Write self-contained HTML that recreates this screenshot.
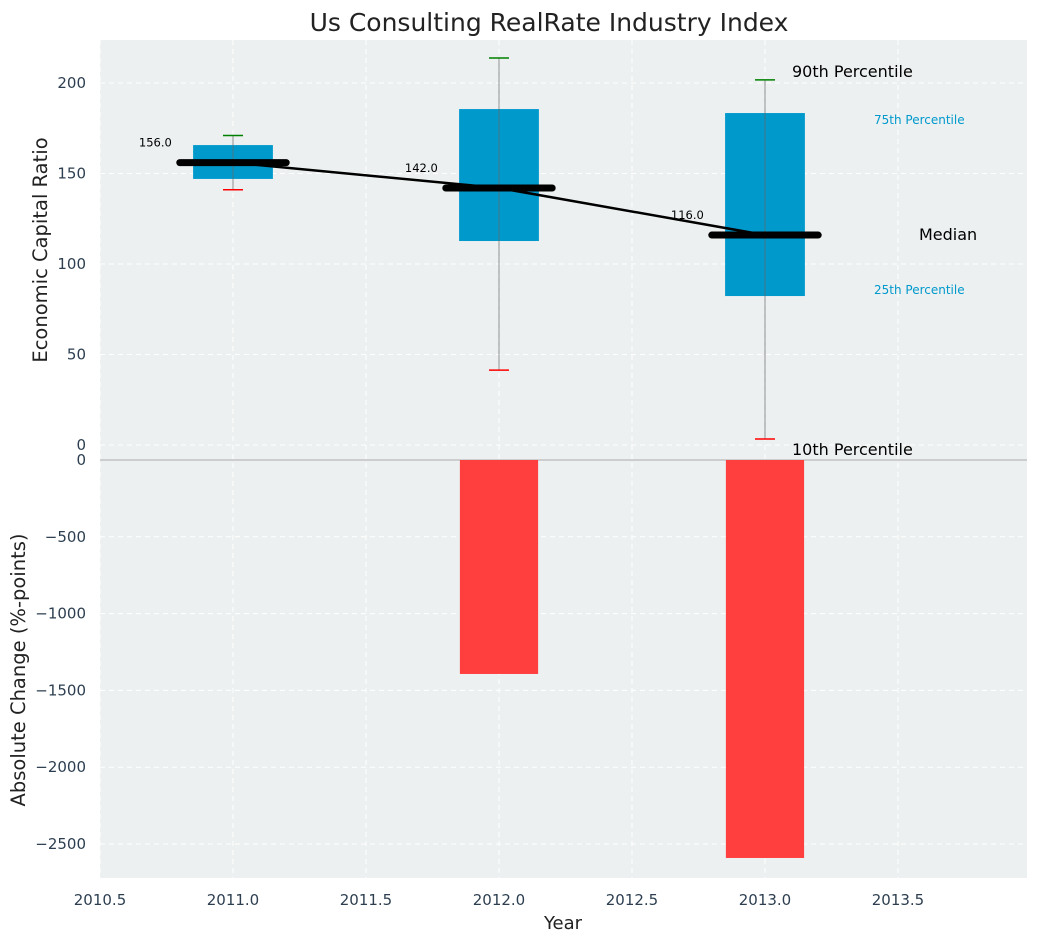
<!DOCTYPE html>
<html><head><meta charset="utf-8"><style>
body{margin:0;background:#fff;font-family:"Liberation Sans","DejaVu Sans",sans-serif}
</style></head><body>
<svg id="c" width="1039" height="942" xmlns="http://www.w3.org/2000/svg" font-family="DejaVu Sans, Liberation Sans, sans-serif"></svg>
<script>
const years=[2011,2012,2013];
const p10=[141,41.4,3.3];
const q1=[147,112.7,82.3];
const median=[156,142,116];
const q3=[165.7,185.6,183.4];
const p90=[171,213.8,201.7];
const changes=[0,-1393,-2591];
const xTicks=[2010.5,2011,2011.5,2012,2012.5,2013,2013.5];
const yTopTicks=[0,50,100,150,200];
const yBotTicks=[0,-500,-1000,-1500,-2000,-2500];
const NS='http://www.w3.org/2000/svg';
const svg=document.getElementById('c');
function el(t,a,p){const e=document.createElementNS(NS,t);for(const k in a)e.setAttribute(k,a[k]);(p||svg).appendChild(e);return e;}
const L=100,R=1027,X0=2010.5,X1=2013.985;
const x=v=>L+(v-X0)/(X1-X0)*(R-L);
const T0=40,T1=460,yt=v=>445-v*1.81;
const B0=460,B1=878,yb=v=>460-v*0.1536;
let e=el('rect',{x:L,y:T0,width:R-L,height:T1-T0,fill:'#ecf0f1'});

e=el('rect',{x:L,y:B0,width:R-L,height:B1-B0,fill:'#ecf0f1'});

const g=el('g',{stroke:'#fff','stroke-dasharray':'5,4','stroke-width':1});

xTicks.forEach(v=>{el('line',{x1:x(v),x2:x(v),y1:T0,y2:B1},g);});
yTopTicks.forEach(v=>{el('line',{x1:L,x2:R,y1:yt(v),y2:yt(v)},g);});
yBotTicks.forEach(v=>{el('line',{x1:L,x2:R,y1:yb(v),y2:yb(v)},g);});
el('line',{x1:L,x2:R,y1:460,y2:460,stroke:'#aaa','stroke-width':1});
xTicks.forEach(v=>{const t=el('text',{x:x(v),y:905,'text-anchor':'middle','font-size':15,fill:'#2c3e50'});t.textContent=v.toFixed(1);});
yTopTicks.forEach(v=>{const t=el('text',{x:86,y:yt(v)+5,'text-anchor':'end','font-size':15,fill:'#2c3e50'});t.textContent=v;});
yBotTicks.forEach(v=>{const t=el('text',{x:86,y:yb(v)+5,'text-anchor':'end','font-size':15,fill:'#2c3e50'});t.textContent=v<0?'\u2212'+(-v):v;});
years.forEach((yr,i)=>{if(changes[i]===0)return;const b=el('rect',{x:x(yr-0.147),width:x(yr+0.147)-x(yr-0.147),y:yb(0),height:yb(changes[i])-yb(0),fill:'#ff3e3e'});
});
years.forEach((yr,i)=>{const b=el('rect',{x:x(yr-0.15),width:x(yr+0.15)-x(yr-0.15),y:yt(q3[i]),height:yt(q1[i])-yt(q3[i]),fill:'#0099cc'});

const w=el('line',{x1:x(yr),x2:x(yr),y1:yt(p90[i]),y2:yt(p10[i]),stroke:'#666','stroke-opacity':0.7,'stroke-width':1});

const c1=el('line',{x1:x(yr)-10,x2:x(yr)+10,y1:yt(p90[i]),y2:yt(p90[i]),stroke:'green','stroke-width':1.5});

const c2=el('line',{x1:x(yr)-10,x2:x(yr)+10,y1:yt(p10[i]),y2:yt(p10[i]),stroke:'red','stroke-width':1.5});
});
const ml=el('polyline',{points:years.map((yr,i)=>x(yr)+','+yt(median[i])).join(' '),fill:'none',stroke:'#000','stroke-width':2.5});

years.forEach((yr,i)=>{const m=el('line',{x1:x(yr-0.2),x2:x(yr+0.2),y1:yt(median[i]),y2:yt(median[i]),stroke:'#000','stroke-width':7,'stroke-linecap':'round'});

const t=el('text',{x:x(yr-0.23),y:yt(median[i])-16,'text-anchor':'end','font-size':11.5,fill:'#000'});t.textContent=median[i].toFixed(1);
});
[['90th Percentile',792,77,16,'#000'],['75th Percentile',874,124,12,'#0099cc'],['Median',919,240,16,'#000'],['25th Percentile',874,294,12,'#0099cc'],['10th Percentile',792,455,16,'#000']].forEach(a=>{
const t=el('text',{x:a[1],y:a[2],'font-size':a[3],fill:a[4]});t.textContent=a[0];});
let t=el('text',{x:549,y:31,'text-anchor':'middle','font-size':25,fill:'#222'});t.textContent='Us Consulting RealRate Industry Index';
t=el('text',{x:563,y:929,'text-anchor':'middle','font-size':18,fill:'#222'});t.textContent='Year';
t=el('text',{x:0,y:0,'text-anchor':'middle','font-size':19.5,fill:'#222',transform:'translate(47,250) rotate(-90)'});t.textContent='Economic Capital Ratio';
t=el('text',{x:0,y:0,'text-anchor':'middle','font-size':19.5,fill:'#222',transform:'translate(25,670) rotate(-90)'});t.textContent='Absolute Change (%-points)';
</script></body></html>
